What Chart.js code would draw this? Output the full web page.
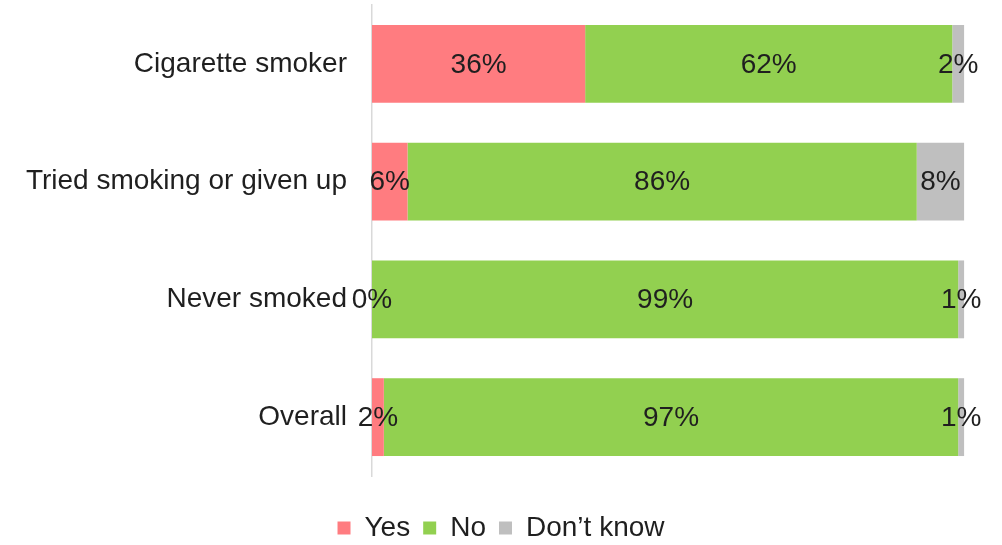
<!DOCTYPE html>
<html>
<head>
<meta charset="utf-8">
<script src="https://cdn.jsdelivr.net/npm/chart.js@4/dist/chart.umd.min.js"></script>
<style>
  html, body { margin: 0; padding: 0; background: #fff; }
  #wrap { width: 1002px; height: 545px; }
</style>
</head>
<body>
<div id="wrap"><canvas id="chart"></canvas></div>
<script>
// Data
const categories = ['Cigarette smoker', 'Tried smoking or given up', 'Never smoked', 'Overall'];
const yesValues = [36, 6, 0, 2];
const noValues = [62, 86, 99, 97];
const dontKnowValues = [2, 8, 1, 1];

const FONT = "'Liberation Sans', Arial, sans-serif";

// Draw the % labels in the middle of each segment
const segmentLabels = {
    id: 'segmentLabels',
    afterDatasetsDraw(chart) {
        const ctx = chart.ctx;
        ctx.save();
        ctx.font = '28px ' + FONT;
        ctx.fillStyle = '#1f1f1f';
        ctx.textAlign = 'center';
        ctx.textBaseline = 'middle';
        chart.data.datasets.forEach((ds, i) => {
            chart.getDatasetMeta(i).data.forEach((bar, j) => {
                const x = (bar.base + bar.x) / 2;
                ctx.fillText(ds.data[j] + '%', x, bar.y + 1);
            });
        });
        ctx.restore();
    }
};

new Chart(document.getElementById('chart'), {
    type: 'bar',
    data: {
        labels: categories,
        datasets: [
            { label: 'Yes', data: yesValues, backgroundColor: '#FF7C80' },
            { label: 'No', data: noValues, backgroundColor: '#92D050' },
            { label: 'Don\u2019t know', data: dontKnowValues, backgroundColor: '#BFBFBF' }
        ]
    },
    options: {
        indexAxis: 'y',
        responsive: true,
        maintainAspectRatio: false,
        animation: false,
        categoryPercentage: 1,
        barPercentage: 0.661,
        layout: { padding: { top: 5, right: 0, bottom: -7, left: 0 } },
        scales: {
            x: {
                stacked: true,
                min: 0,
                // 100% ends ~38px short of the right edge in the original
                max: 106.4,
                grid: { display: false },
                border: { display: false },
                ticks: { display: false },
                afterFit(scale) { scale.height = 25; }
            },
            y: {
                stacked: true,
                grid: { display: false },
                border: { display: true, color: '#D9D9D9', width: 1.5 },
                ticks: {
                    color: '#1f1f1f',
                    padding: 17,
                    font: { family: FONT, size: 28 }
                },
                afterFit(scale) {
                    scale.width = 372;
                    scale.paddingTop = 0;
                    scale.paddingBottom = 0;
                }
            }
        },
        plugins: {
            legend: {
                position: 'bottom',
                labels: {
                    color: '#1f1f1f',
                    boxWidth: 13,
                    boxHeight: 13,
                    padding: 13,
                    font: { family: FONT, size: 28 }
                }
            },
            tooltip: { enabled: false }
        }
    },
    plugins: [segmentLabels]
});
</script>
</body>
</html>
